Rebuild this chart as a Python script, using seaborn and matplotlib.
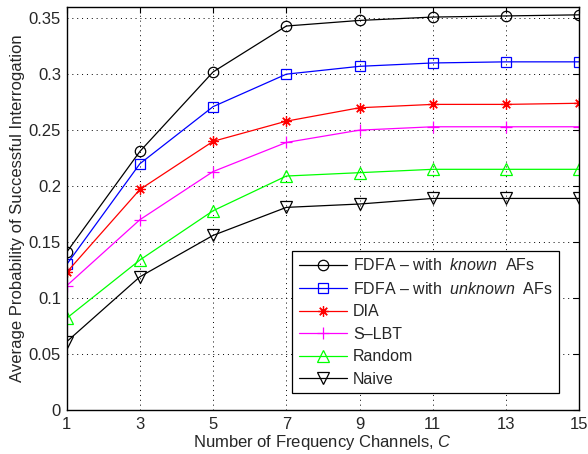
import matplotlib
matplotlib.use("Agg")
import matplotlib.pyplot as plt
import seaborn as sns
import pandas as pd
from matplotlib.ticker import FixedLocator, FixedFormatter

channels = [1, 3, 5, 7, 9, 11, 13, 15]
fdfa_known = [0.141, 0.231, 0.302, 0.343, 0.348, 0.351, 0.352, 0.353]
fdfa_unknown = [0.130, 0.220, 0.271, 0.300, 0.307, 0.310, 0.311, 0.311]
dia = [0.123, 0.197, 0.240, 0.258, 0.270, 0.273, 0.273, 0.274]
slbt = [0.111, 0.170, 0.213, 0.239, 0.250, 0.253, 0.253, 0.253]
random_ = [0.082, 0.134, 0.178, 0.209, 0.212, 0.215, 0.215, 0.215]
naive = [0.061, 0.119, 0.156, 0.181, 0.184, 0.189, 0.189, 0.189]

series_names = ["FDFA \u2013 with  $\\it{known}$  AFs",
                "FDFA \u2013 with  $\\it{unknown}$  AFs",
                "DIA", "S\u2013LBT", "Random", "Naive"]
series_values = [fdfa_known, fdfa_unknown, dia, slbt, random_, naive]
colors = ["black", "#0000ff", "#ff0000", "#ff00ff", "#00ff00", "black"]
markers = ["o", "s", (8, 2, 0), "+", "^", "v"]
msizes = [7.5, 7, 7.5, 8, 8.5, 8.5]

yticks = [0, 0.05, 0.1, 0.15, 0.2, 0.25, 0.3, 0.35]
ytick_labels = ["0", "0.05", "0.1", "0.15", "0.2", "0.25", "0.3", "0.35"]
xticks = channels
xtick_labels = [str(c) for c in channels]

sns.set_style("white")
plt.rcParams["font.family"] = ["Liberation Sans", "DejaVu Sans"]
plt.rcParams["mathtext.fontset"] = "custom"
plt.rcParams["mathtext.it"] = "Liberation Sans:italic"
plt.rcParams["mathtext.rm"] = "Liberation Sans"

fig = plt.figure(figsize=(5.88, 4.54), dpi=100)
ax = fig.add_axes([0.1134, 0.0969, 0.985 - 0.1134, 0.9846 - 0.0969])

for name, vals, c, m, ms in zip(series_names, series_values, colors, markers, msizes):
    df = pd.DataFrame({"C": channels, "P": vals})
    sns.lineplot(data=df, x="C", y="P", ax=ax, color=c, marker=m,
                 markersize=ms, markerfacecolor="none", markeredgecolor=c,
                 markeredgewidth=0.9, linewidth=0.9, label=name)

ax.set_xlim(1, 15)
ax.set_ylim(0, 0.36)
ax.xaxis.set_major_locator(FixedLocator(xticks))
ax.xaxis.set_major_formatter(FixedFormatter(xtick_labels))
ax.yaxis.set_major_locator(FixedLocator(yticks))
ax.yaxis.set_major_formatter(FixedFormatter(ytick_labels))
ax.grid(True, linestyle=(0, (1, 4)), color="black", linewidth=0.7)
ax.tick_params(direction="in", top=True, right=True, length=4, pad=4,
               labelsize=12, color="black", width=0.8)
ax.tick_params(axis="x", pad=5)
for s in ax.spines.values():
    s.set_color("black")
    s.set_linewidth(1.0)
ax.set_xlabel("Number of Frequency Channels, $\\it{C}$", fontsize=12, labelpad=1)
ax.set_ylabel("Average Probability of Successful Interrogation", fontsize=12, labelpad=3)

leg = ax.legend(loc="lower right", bbox_to_anchor=(0.961, 0.042), borderaxespad=0,
                fontsize=11.5, handlelength=3.0, frameon=True, fancybox=False,
                edgecolor="black", framealpha=1, labelspacing=0.47,
                borderpad=0.4, handletextpad=0.4)
leg.get_frame().set_linewidth(0.9)

fig.savefig("out.png", dpi=100)
